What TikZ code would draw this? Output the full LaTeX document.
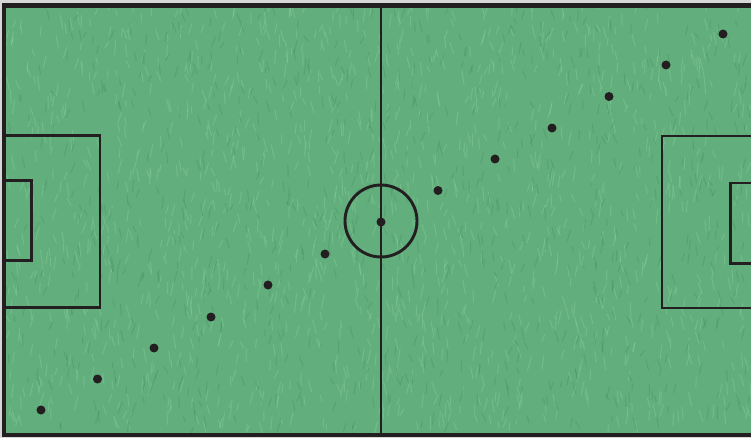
\documentclass[tikz,border=0pt]{standalone}
\definecolor{grass}{RGB}{98,174,124}
\definecolor{grasslight}{RGB}{140,210,160}
\definecolor{grassdark}{RGB}{66,140,92}
\definecolor{ink}{RGB}{35,31,32}
\definecolor{edge}{RGB}{215,215,215}
\tikzset{
  pitchline/.style={draw=ink, line width=2.9pt},
  player/.style={circle, fill=ink, inner sep=0pt, minimum size=9pt},
}
\begin{document}
\begin{tikzpicture}[x=1pt,y=-1pt]
\useasboundingbox (0,0) rectangle (751,438);
\fill[edge] (0,0) rectangle (751,438);
\fill[grass] (4,6) rectangle (751,435);
% grass texture
\pgfmathsetseed{7}
\begin{scope}
\clip (6,8) rectangle (751,433);
\foreach \i in {1,...,1400}{
  \pgfmathsetmacro{\px}{6+745*rnd}
  \pgfmathsetmacro{\py}{8+425*rnd}
  \pgfmathsetmacro{\dx}{4*rand}
  \pgfmathsetmacro{\dy}{6+8*rnd}
  \draw[grasslight, opacity=0.4, line width=1pt, line cap=round] (\px,\py) -- ++(\dx,-\dy);
}
\foreach \i in {1,...,800}{
  \pgfmathsetmacro{\px}{6+745*rnd}
  \pgfmathsetmacro{\py}{8+425*rnd}
  \pgfmathsetmacro{\dx}{4*rand}
  \pgfmathsetmacro{\dy}{5+7*rnd}
  \draw[grassdark, opacity=0.35, line width=1pt, line cap=round] (\px,\py) -- ++(\dx,-\dy);
}
\end{scope}
% outer frame
\draw[ink, line width=4.8pt] (760,5.8) -- (3.9,5.8) -- (3.9,435) -- (760,435);
% halfway line and centre circle
\draw[pitchline] (381,6) -- (381,435);
\draw[pitchline] (381,221) circle (36);
% left penalty area and goal area
\draw[pitchline] (4,135.5) -- (100,135.5) -- (100,307.5) -- (4,307.5);
\draw[pitchline] (4,180.5) -- (31.5,180.5) -- (31.5,260.5) -- (4,260.5);
% right penalty area and goal area
\draw[pitchline] (755,136) -- (662,136) -- (662,308) -- (755,308);
\draw[pitchline] (755,183) -- (730.5,183) -- (730.5,263.5) -- (755,263.5);
% players
\node[player] (p1) at (41,410) {};
\node[player] (p2) at (97.5,379) {};
\node[player] (p3) at (154,348) {};
\node[player] (p4) at (211,317) {};
\node[player] (p5) at (268,285) {};
\node[player] (p6) at (325,254) {};
\node[player] (p7) at (381,222) {};
\node[player] (p8) at (438,190.5) {};
\node[player] (p9) at (495,159) {};
\node[player] (p10) at (552,128) {};
\node[player] (p11) at (609,96.5) {};
\node[player] (p12) at (666,65) {};
\node[player] (p13) at (723,34) {};
\end{tikzpicture}
\end{document}
